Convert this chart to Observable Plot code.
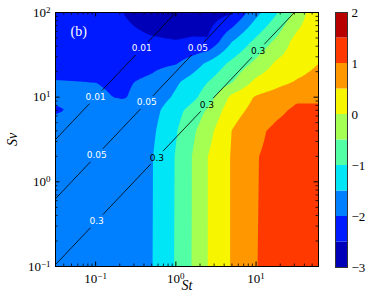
<!DOCTYPE html>
<html><head><meta charset="utf-8">
<script src="https://cdn.jsdelivr.net/npm/d3@7"></script>
<script src="https://cdn.jsdelivr.net/npm/@observablehq/plot@0.6"></script>
<style>
body{margin:0;background:#fff;}
#wrap{position:relative;width:375px;height:305px;overflow:hidden;background:#fff;}
#main,#cbar{position:absolute;top:0;}
#main{left:0}
#cbar{left:320px}
</style></head><body><div id="wrap"><div id="main"></div><div id="cbar"></div></div>
<script>
// ---- data: field values (contour variable) on a grid of St (columns) x Sv (rows)
const stGrid = [0.0316, 0.1, 0.22, 0.5, 1, 1.6, 2.5, 5, 10, 18, 32, 60];
const svGrid = [0.1, 2, 4, 7, 10, 15, 25, 45, 100];
const fieldSv0_1 = [-1.80, -1.70, -1.63, -1.52, -0.96, -0.48, 0.00, 0.54, 0.99, 1.13, 1.24, 1.33];
const fieldSv2   = [-1.82, -1.72, -1.64, -1.53, -0.97, -0.49, 0.00, 0.54, 0.98, 1.12, 1.22, 1.30];
const fieldSv4   = [-1.88, -1.78, -1.70, -1.60, -1.04, -0.61, -0.17, 0.51, 0.90, 1.10, 1.20, 1.28];
const fieldSv7   = [-2.03, -1.90, -1.83, -1.69, -1.17, -0.82, -0.44, 0.30, 0.66, 0.90, 1.08, 1.12];
const fieldSv10  = [-1.95, -1.95, -2.03, -1.82, -1.42, -1.14, -0.75, 0.13, 0.55, 0.72, 0.925, 0.89];
const fieldSv15  = [-1.98, -2.00, -2.06, -1.90, -1.57, -1.29, -1.00, -0.53, 0.13, 0.35, 0.54, 0.68];
const fieldSv25  = [-2.15, -2.20, -2.22, -2.12, -2.03, -1.76, -1.41, -0.88, -0.38, 0.08, 0.28, 0.50];
const fieldSv45  = [-2.25, -2.35, -2.40, -2.45, -2.48, -2.45, -2.45, -1.50, -0.87, -0.39, 0.19, 0.40];
const fieldSv100 = [-2.20, -2.35, -2.50, -2.68, -2.78, -2.72, -2.75, -2.55, -1.65, -1.04, -0.36, 0.45];
const fieldRows = [fieldSv0_1, fieldSv2, fieldSv4, fieldSv7, fieldSv10, fieldSv15, fieldSv25, fieldSv45, fieldSv100];

// contour levels and colours
const levels = [-3, -2.5, -2, -1.5, -1, -0.5, 0, 0.5, 1, 1.5, 2];
const levelColors = ["#0000b9", "#001aff", "#0080ff", "#00e6f7", "#52ffa5", "#a5ff52", "#f7f600", "#ff9700", "#ff3900", "#b90000"];
const colorbarTicks = [-3, -2, -1, 0, 1, 2];

// reference lines St/Sv = c and their labels
const ratios = [0.01, 0.05, 0.3];
const labelRatio = [0.01, 0.01, 0.05, 0.05, 0.05, 0.3, 0.3, 0.3, 0.3];
const labelSt = [0.376, 0.1, 1.88, 0.434, 0.103, 10.6, 2.44, 0.579, 0.103];
const labelInk = ["white", "white", "white", "white", "white", "black", "black", "black", "white"];

// axes
const xDomain = [0.0316, 60];
const yDomain = [0.1, 100];
const xMajor = [0.1, 1, 10];
const yMajor = [0.1, 1, 10, 100];
const panelTag = "(b)";

// ---- helpers
const uGrid = stGrid.map(Math.log10), vGrid = svGrid.map(Math.log10);
function locate(g, t) {
  let i = 0;
  while (i < g.length - 2 && t > g[i + 1]) i++;
  const f = Math.max(0, Math.min(1, (t - g[i]) / (g[i + 1] - g[i])));
  return [i, f];
}
function fieldAt(st, sv) {
  const [i, fx] = locate(uGrid, Math.log10(st));
  const [j, fy] = locate(vGrid, Math.log10(sv));
  const r0 = fieldRows[j], r1 = fieldRows[j + 1];
  const a = r0[i] * (1 - fx) + r0[i + 1] * fx;
  const b = r1[i] * (1 - fx) + r1[i + 1] * fx;
  return a * (1 - fy) + b * fy;
}
function minorTicks(lo, hi) {
  const out = [];
  for (let e = Math.floor(Math.log10(lo)); e <= Math.ceil(Math.log10(hi)); e++)
    for (let m = 2; m <= 9; m++) { const v = m * 10 ** e; if (v >= lo && v <= hi) out.push(v); }
  return out;
}
const xMinor = minorTicks(xDomain[0], xDomain[1]);
const yMinor = minorTicks(yDomain[0], yDomain[1]);
const sup = d => "10^" + String(Math.round(Math.log10(d))).replace("-", "\u2212");

const gap = 0.08;
const segs = [];
ratios.forEach(c => {
  const us = labelSt.filter((_, k) => labelRatio[k] === c).map(Math.log10).sort((a, b) => a - b);
  let start = Math.log10(xDomain[0]) - 0.2;
  const pieces = [];
  for (const u of us) { pieces.push([start, u - gap]); start = u + gap; }
  pieces.push([start, Math.log10(xDomain[1]) + 0.2]);
  pieces.forEach((p, k) => p.forEach(u => segs.push({seg: c + "-" + k, St: 10 ** u, Sv: 10 ** u / c})));
});
const labels = labelSt.map((s, k) => ({St: s, Sv: s / labelRatio[k], t: String(labelRatio[k]), ink: labelInk[k]}));

const W = 375, H = 305, mL = 55, mR = 57, mT = 12, mB = 39;
const iW = W - mL - mR, iH = H - mT - mB;
const TL = 4.5, tl = 2.5;

const main = Plot.plot({
  width: W, height: H,
  marginLeft: mL, marginRight: mR, marginTop: mT, marginBottom: mB,
  x: {type: "log", domain: xDomain, label: null},
  y: {type: "log", domain: yDomain, label: null},
  color: {type: "threshold", domain: levels.slice(1, -1), range: levelColors},
  style: {fontFamily: "Liberation Serif", fontSize: "13px", background: "white", color: "black"},
  marks: [
    Plot.contour({x1: xDomain[0], x2: xDomain[1], y1: yDomain[0], y2: yDomain[1],
      fill: fieldAt, thresholds: levels.slice(0, -1)}),
    Plot.line(segs, {x: "St", y: "Sv", z: "seg", stroke: "black", strokeWidth: 0.8, clip: true}),
    Plot.text(labels, {filter: d => d.ink === "white", x: "St", y: "Sv", text: "t", fill: "white", fontSize: 9, fontFamily: "DejaVu Sans"}),
    Plot.text(labels, {filter: d => d.ink === "black", x: "St", y: "Sv", text: "t", fill: "black", fontSize: 9, fontFamily: "DejaVu Sans"}),
    Plot.text([panelTag], {frameAnchor: "top-left", dx: 15, dy: 19, textAnchor: "start", lineAnchor: "middle", fill: "white", fontSize: 14}),
    // inward ticks on all four sides
    Plot.tickX(xMajor, {x: d => d, insetTop: iH - TL, stroke: "black"}),
    Plot.tickX(xMajor, {x: d => d, insetBottom: iH - TL, stroke: "black"}),
    Plot.tickX(xMinor, {x: d => d, insetTop: iH - tl, stroke: "black", strokeWidth: 0.8}),
    Plot.tickX(xMinor, {x: d => d, insetBottom: iH - tl, stroke: "black", strokeWidth: 0.8}),
    Plot.tickY(yMajor, {y: d => d, insetRight: iW - TL, stroke: "black"}),
    Plot.tickY(yMajor, {y: d => d, insetLeft: iW - TL, stroke: "black"}),
    Plot.tickY(yMinor, {y: d => d, insetRight: iW - tl, stroke: "black", strokeWidth: 0.8}),
    Plot.tickY(yMinor, {y: d => d, insetLeft: iW - tl, stroke: "black", strokeWidth: 0.8}),
    Plot.frame({stroke: "black", strokeWidth: 1}),
    Plot.axisX({ticks: xMajor, tickSize: 0, tickPadding: 7, tickFormat: sup, label: null}),
    Plot.axisY({ticks: yMajor, tickSize: 0, tickPadding: 5, tickFormat: sup, label: null}),
    Plot.text(["St"], {frameAnchor: "bottom", dy: 19, lineAnchor: "middle", textAnchor: "middle", fontStyle: "italic", fontSize: 14}),
    Plot.text(["Sv"], {frameAnchor: "left", dx: -43, rotate: -90, lineAnchor: "middle", textAnchor: "middle", fontStyle: "italic", fontSize: 14})
  ]
});

function supify(svg) {
  d3.select(svg).selectAll('g[aria-label$="tick label"]').attr("font-size", 13);
  d3.select(svg).selectAll('g[aria-label$="tick label"] text').each(function () {
    const s = this.textContent;
    const m = s.match(/^10\^(.+)$/);
    if (!m) return;
    const el = d3.select(this);
    el.attr("font-size", 13);
    el.text(null);
    el.append("tspan").text("10");
    el.append("tspan").attr("dy", "-0.45em").attr("font-size", 9).text(m[1]);
  });
}
supify(main);
document.getElementById("main").appendChild(main);

// ---- colour bar
const bands = levelColors.map((c, k) => ({lo: levels[k], hi: levels[k + 1], c}));
const cbar = Plot.plot({
  width: 55, height: H,
  marginLeft: 15, marginRight: 28, marginTop: 12, marginBottom: 38,
  x: {domain: [0, 1], axis: null},
  y: {domain: [-3, 2], label: null},
  color: {type: "identity"},
  style: {fontFamily: "Liberation Serif", fontSize: "13px", background: "transparent", color: "black"},
  marks: [
    Plot.rect(bands, {x1: 0, x2: 1, y1: "lo", y2: "hi", fill: "c"}),
    Plot.frame({stroke: "#333", strokeWidth: 1}),
    Plot.axisY({anchor: "right", ticks: colorbarTicks, tickSize: 0, tickPadding: 4, label: null,
      tickFormat: d => String(d).replace("-", "\u2212")})
  ]
});
d3.select(cbar).selectAll('g[aria-label$="tick label"]').attr("font-size", 13);
document.getElementById("cbar").appendChild(cbar);
</script>
</body></html>
